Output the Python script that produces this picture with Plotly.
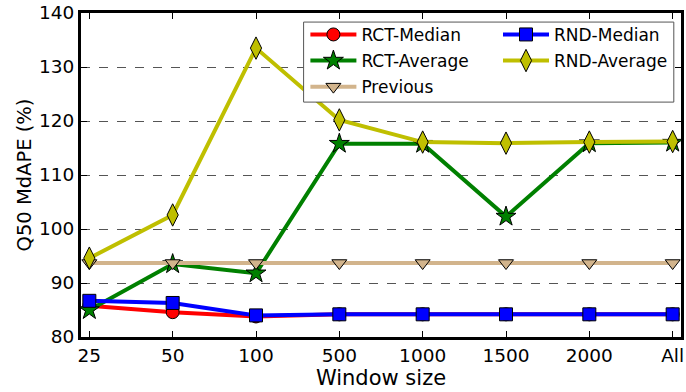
import plotly.graph_objects as go

categories = ["25", "50", "100", "500", "1000", "1500", "2000", "All"]
rct_median = [85.8, 84.6, 83.8, 84.2, 84.2, 84.2, 84.2, 84.2]
rct_average = [85.0, 93.5, 91.8, 115.8, 115.8, 102.3, 115.9, 116.0]
previous = [93.7, 93.7, 93.7, 93.7, 93.7, 93.7, 93.7, 93.7]
rnd_median = [86.7, 86.3, 84.0, 84.2, 84.2, 84.2, 84.2, 84.2]
rnd_average = [94.6, 102.6, 133.5, 120.2, 116.1, 115.9, 116.1, 116.2]

series = [
    # name, values, color, symbol, size, legend column
    ("RCT-Median", rct_median, "#ff0000", "circle", 13, "legend"),
    ("RCT-Average", rct_average, "#008000", "star", 15, "legend"),
    ("Previous", previous, "#d2b48c", "triangle-down", 13, "legend"),
    ("RND-Median", rnd_median, "#0000ff", "square", 13, "legend2"),
    ("RND-Average", rnd_average, "#bfbf00", "diamond-tall", 16, "legend2"),
]

fig = go.Figure()
for name, vals, color, sym, size, leg in series:
    fig.add_trace(go.Scatter(
        x=categories, y=vals, name=name, mode="lines+markers",
        line=dict(color=color, width=4),
        marker=dict(symbol=sym, size=size, color=color,
                    line=dict(color="black", width=1)),
        legend=leg, legendgroup=name,
    ))

font = "DejaVu Sans, Liberation Sans, sans-serif"
legend_style = dict(
    orientation="v", yanchor="top", xanchor="left",
    bgcolor="rgba(0,0,0,0)", borderwidth=0,
    font=dict(size=17), itemwidth=46, tracegroupgap=1,
)
fig.update_layout(
    width=686, height=392,
    margin=dict(l=81, r=2, t=13, b=55),
    paper_bgcolor="white", plot_bgcolor="white",
    font=dict(family=font, size=18, color="black"),
    showlegend=True,
    legend=dict(x=0.374, y=0.988, **legend_style),
    legend2=dict(x=0.695, y=0.988, **legend_style),
    shapes=[dict(
        type="rect", xref="paper", yref="paper",
        x0=0.371, x1=0.988, y0=0.725, y1=0.972,
        line=dict(color="#555555", width=1), fillcolor="white", layer="above",
    )],
)
fig.update_xaxes(
    type="category", range=[-0.1, 7.1],
    showline=True, linecolor="black", linewidth=3, mirror="ticks",
    ticks="inside", ticklen=6, tickcolor="black", tickwidth=1,
    showgrid=False, zeroline=False,
    title=dict(text="Window size", font=dict(size=21), standoff=2),
    tickfont=dict(size=18.5),
)
fig.update_yaxes(
    range=[80, 140], dtick=10,
    showline=True, linecolor="black", linewidth=3, mirror="ticks",
    ticks="inside", ticklen=6, tickcolor="black", tickwidth=1,
    showgrid=True, gridcolor="#555555", griddash="dash", gridwidth=1,
    zeroline=False,
    title=dict(text="Q50 MdAPE (%)", font=dict(size=19.5), standoff=3),
    tickfont=dict(size=18.5),
)

fig.write_html("out.html", config={"displayModeBar": False},
               post_script="document.body.style.margin='0';")
